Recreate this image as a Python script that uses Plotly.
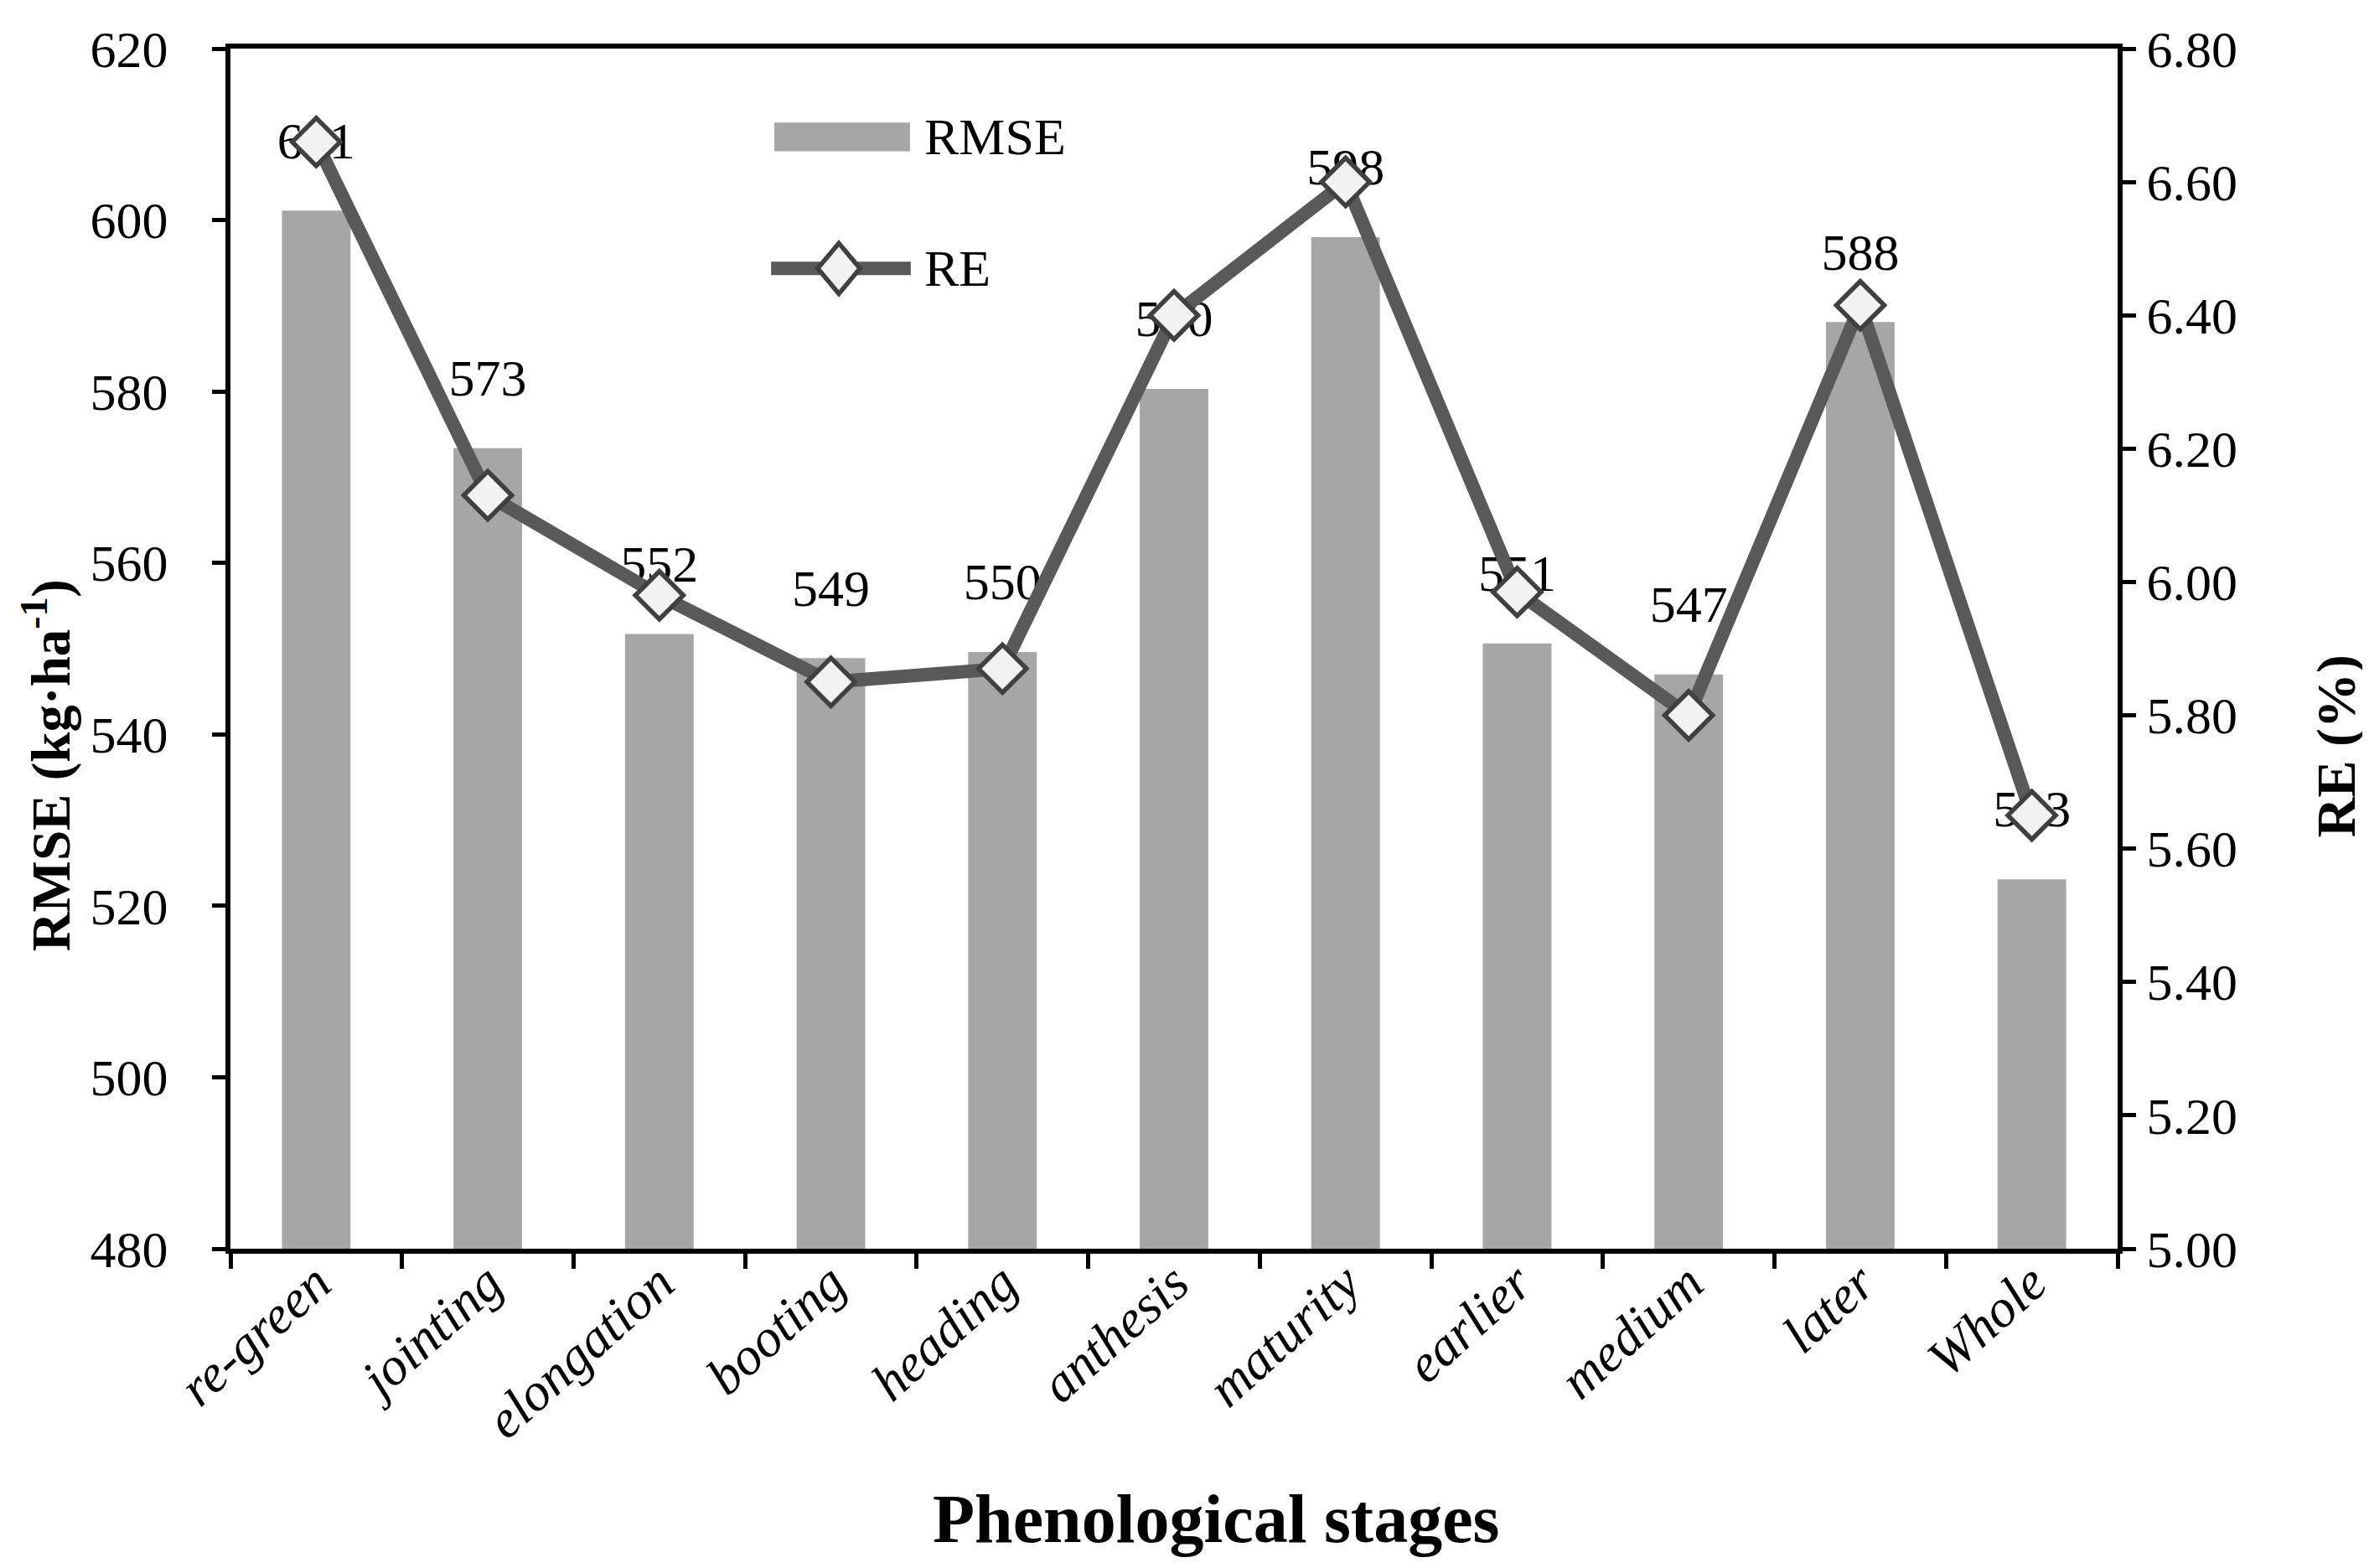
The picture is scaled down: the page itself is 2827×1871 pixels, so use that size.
import plotly.graph_objects as go

stages = ["re-green", "jointing", "elongation", "booting", "heading", "anthesis",
          "maturity", "earlier", "medium", "later", "Whole"]
rmse = [601.1, 573.4, 551.7, 548.9, 549.6, 580.3, 598.0, 550.6, 547.0, 588.1, 523.1]
rmse_labels = ["601", "573", "552", "549", "550", "580", "598", "551", "547", "588", "523"]
re_pct = [6.66, 6.13, 5.98, 5.85, 5.87, 6.40, 6.60, 5.985, 5.80, 6.415, 5.65]

left_ticks = [480, 500, 520, 540, 560, 580, 600, 620]
right_ticks = [5.0, 5.2, 5.4, 5.6, 5.8, 6.0, 6.2, 6.4, 6.6, 6.8]

BAR_COLOR = "#a6a6a6"
LINE_COLOR = "#595959"
MARKER_FILL = "#f2f2f2"
MARKER_EDGE = "#404040"

FONT = "Liberation Serif"
W, H = 2827, 1871
L, R, T, B = 267, 308, 50, 389

fig = go.Figure()

fig.add_trace(go.Bar(
    x=stages, y=rmse, name="RMSE",
    marker=dict(color=BAR_COLOR, line=dict(width=0)),
    showlegend=False, hoverinfo="skip",
))

# data labels (drawn beneath the RE line)
fig.add_trace(go.Scatter(
    x=stages, y=rmse, mode="markers+text", text=rmse_labels,
    textposition="top center",
    textfont=dict(family=FONT, size=62, color="black"),
    marker=dict(size=74, color="rgba(0,0,0,0)"),
    showlegend=False, hoverinfo="skip", cliponaxis=False,
))

fig.add_trace(go.Scatter(
    x=stages, y=re_pct, name="RE", yaxis="y2", mode="lines+markers",
    line=dict(color=LINE_COLOR, width=16),
    marker=dict(symbol="diamond", size=44, color=MARKER_FILL,
                line=dict(color=MARKER_EDGE, width=5.5)),
    showlegend=False, hoverinfo="skip", cliponaxis=False,
))

# legend drawn by hand so its symbols keep the reference proportions
ly1, ly2 = 0.9264, 0.8168
legend_shapes = [
    dict(type="rect", xref="paper", yref="paper",
         x0=0.2882, x1=0.3601, y0=ly1 - 0.0119, y1=ly1 + 0.0119,
         fillcolor=BAR_COLOR, line=dict(width=0), layer="above"),
    dict(type="line", xref="paper", yref="paper",
         x0=0.2865, x1=0.3605, y0=ly2, y1=ly2,
         line=dict(color=LINE_COLOR, width=16), layer="above"),
    dict(type="path", xref="paper", yref="paper",
         path=(f"M 0.3224,{ly2 + 0.021} L 0.3336,{ly2} "
               f"L 0.3224,{ly2 - 0.021} L 0.3112,{ly2} Z"),
         fillcolor=MARKER_FILL, line=dict(color=MARKER_EDGE, width=5.5),
         layer="above"),
]

fig.update_layout(
    width=W, height=H,
    margin=dict(l=L, r=R, t=T, b=B, autoexpand=False),
    paper_bgcolor="white", plot_bgcolor="white",
    font=dict(family=FONT, size=62, color="black"),
    bargap=0.6,
    showlegend=False,
    shapes=legend_shapes,
    xaxis=dict(
        type="category", tickson="boundaries", ticks="outside",
        ticklen=18, tickwidth=5, tickcolor="black",
        showline=True, linewidth=6, linecolor="black", mirror=True,
        showgrid=False, zeroline=False, tickangle=-42,
        tickfont=dict(family=FONT, size=64, style="italic"),
        ticklabelstandoff=-28,
        range=[-0.5, len(stages) - 0.5],
    ),
    yaxis=dict(
        range=[480, 620], tickvals=left_ticks, ticks="outside",
        ticklen=16, tickwidth=5, tickcolor="black",
        showline=True, linewidth=6, linecolor="black",
        showgrid=False, zeroline=False, tickfont=dict(family=FONT, size=62),
        ticklabelstandoff=40,
    ),
    yaxis2=dict(
        range=[5.0, 6.8], tickvals=right_ticks, tickformat=".2f",
        overlaying="y", side="right", ticks="outside",
        ticklen=16, tickwidth=5, tickcolor="black",
        showline=True, linewidth=6, linecolor="black",
        showgrid=False, zeroline=False, tickfont=dict(family=FONT, size=62),
        ticklabelstandoff=0,
    ),
    annotations=[
        dict(text="RMSE", xref="paper", yref="paper",
             x=0.3668, y=ly1, xanchor="left", yanchor="middle",
             showarrow=False, font=dict(family=FONT, size=62)),
        dict(text="RE", xref="paper", yref="paper",
             x=0.3668, y=ly2, xanchor="left", yanchor="middle",
             showarrow=False, font=dict(family=FONT, size=62)),
        dict(text="<b>Phenological stages</b>", xref="paper", yref="paper",
             x=0.522, y=-0.225, xanchor="center", yanchor="middle",
             showarrow=False, font=dict(family=FONT, size=82)),
        dict(text="<b>RMSE (kg·ha<sup>-1</sup>)</b>", xref="paper", yref="paper",
             x=-0.0975, y=0.403, xanchor="center", yanchor="middle",
             textangle=-90, showarrow=False, font=dict(family=FONT, size=65)),
        dict(text="<b>RE (%)</b>", xref="paper", yref="paper",
             x=1.116, y=0.419, xanchor="center", yanchor="middle",
             textangle=-90, showarrow=False, font=dict(family=FONT, size=66)),
    ],
)

fig.write_html("out.html")
